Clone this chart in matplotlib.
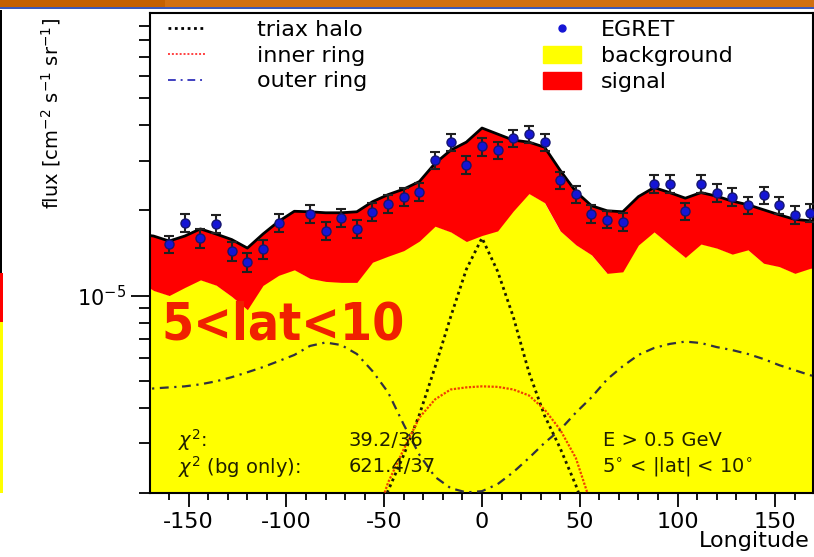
import numpy as np
import matplotlib.pyplot as plt
from matplotlib.patches import Rectangle, Patch
from matplotlib.lines import Line2D
from matplotlib.ticker import MultipleLocator, NullFormatter, LogLocator

plt.rcParams['font.family'] = ['DejaVu Sans']
plt.rcParams['axes.unicode_minus'] = False

# model curves, every 8 deg of longitude, flux in units of 1e-5 cm^-2 s^-1 sr^-1
lon = [-176, -168, -160, -152, -144, -136, -128, -120, -112, -104,
       -96, -88, -80, -72, -64, -56, -48, -40, -32, -24,
       -16, -8, 0, 8, 16, 24, 32, 40, 48, 56,
       64, 72, 80, 88, 96, 104, 112, 120, 128, 136,
       144, 152, 160, 168, 176]
total = [1.65, 1.624, 1.559, 1.624, 1.721, 1.651, 1.578, 1.472, 1.651, 1.830,
         1.987, 1.979, 1.963, 1.963, 1.979, 2.148, 2.276, 2.381, 2.532, 2.937,
         3.268, 3.491, 3.916, 3.728, 3.548, 3.491, 3.350, 2.773, 2.333, 2.079,
         1.995, 1.979, 2.239, 2.411, 2.314, 2.211, 2.314, 2.248, 2.158, 2.096,
         2.012, 1.931, 1.860, 1.838, 1.82]
background = [1.13, 1.042, 1.000, 1.068, 1.136, 1.088, 0.992, 0.891, 1.086, 1.179,
              1.233, 1.150, 1.122, 1.113, 1.113, 1.312, 1.378, 1.442, 1.559, 1.759,
              1.679, 1.553, 1.631, 1.693, 1.991, 2.295, 2.131, 1.693, 1.512, 1.393,
              1.198, 1.213, 1.509, 1.679, 1.512, 1.364, 1.521, 1.472, 1.401, 1.451,
              1.301, 1.266, 1.198, 1.249, 1.25]
outer_ring = [0.458, 0.469, 0.473, 0.477, 0.485, 0.497, 0.514, 0.535, 0.558, 0.586,
              0.616, 0.663, 0.682, 0.668, 0.621, 0.540, 0.454, 0.349, 0.273, 0.228,
              0.208, 0.201, 0.203, 0.215, 0.237, 0.266, 0.301, 0.335, 0.385, 0.436,
              0.505, 0.562, 0.616, 0.652, 0.674, 0.687, 0.679, 0.657, 0.641, 0.621,
              0.596, 0.567, 0.544, 0.522, 0.505]

# halo and inner ring only matter near the centre
lon_c = [-56, -48, -40, -32, -24, -16, -8, 0, 8, 16, 24, 32, 40, 48, 56]
triax_halo = [0.15, 0.204, 0.273, 0.379, 0.558, 0.841, 1.238, 1.598,
              1.218, 0.841, 0.535, 0.376, 0.288, 0.213, 0.15]
inner_ring = [0.15, 0.218, 0.286, 0.370, 0.429, 0.465, 0.473, 0.477,
              0.475, 0.465, 0.443, 0.395, 0.335, 0.266, 0.181]

# EGRET data
egret_lon = [-160, -152, -144, -136, -128, -120, -112, -104,
             -88, -80, -72, -64, -56, -48, -40, -32, -24, -16, -8, 0, 8,
             16, 24, 32, 40, 48, 56, 64, 72,
             88, 96, 104, 112, 120, 128, 136, 144, 152, 160, 168]
egret_flux = [1.521, 1.807, 1.598, 1.793, 1.436, 1.312, 1.460, 1.807,
              1.947, 1.697, 1.884, 1.725, 1.979, 2.113, 2.233, 2.327, 3.017, 3.491, 2.905, 3.370, 3.262,
              3.615, 3.737, 3.491, 2.560, 2.282, 1.947, 1.857, 1.823,
              2.491, 2.491, 1.991, 2.491, 2.314, 2.233, 2.091, 2.270, 2.091, 1.926, 1.963]
egret_err = [0.11, 0.13, 0.12, 0.13, 0.11, 0.10, 0.11, 0.13,
             0.14, 0.12, 0.14, 0.13, 0.14, 0.15, 0.16, 0.17, 0.21, 0.24, 0.21, 0.24, 0.23,
             0.25, 0.26, 0.24, 0.18, 0.16, 0.14, 0.13, 0.13,
             0.18, 0.18, 0.14, 0.18, 0.17, 0.16, 0.15, 0.16, 0.15, 0.14, 0.14]

unit = 1e-5
W, H = 814, 557
fig = plt.figure(figsize=(W / 100, H / 100), dpi=100)


def px_rect(x0, y0, x1, y1, color):
    fig.add_artist(Rectangle((x0 / W, 1 - y1 / H), (x1 - x0) / W, (y1 - y0) / H,
                             transform=fig.transFigure, color=color, lw=0))


# slide header bar and the edge of the neighbouring plot
px_rect(0, 0, W, 7, '#c46000')
px_rect(165, 0, W, 7, '#d27010')
px_rect(0, 7, W, 9, '#3a58b8')
px_rect(0, 10, 2, 273, 'black')
px_rect(0, 273, 3, 322, '#ff0000')
px_rect(0, 322, 3, 493, '#ffff00')

ax = fig.add_axes([150 / W, 1 - 493 / H, 663 / W, 480 / H])
ax.set_yscale('log')
ax.set_xlim(-169.8, 169.3)
ax.set_ylim(2e-6, 1e-4)

lon_a = np.array(lon)
bg = np.array(background) * unit
tot = np.array(total) * unit
ax.fill_between(lon_a, 1e-7, bg, color='#ffff00', lw=0, zorder=1)
ax.fill_between(lon_a, bg, tot, color='#ff0000', lw=0, zorder=1)
ax.plot(lon_a, tot, color='black', lw=2, zorder=2)

ax.plot(lon_c, np.array(triax_halo) * unit, color='#1a1a00', lw=2,
        ls=(0, (1, 1.3)), zorder=3)
ax.plot(lon_c, np.array(inner_ring) * unit, color='#f04000', lw=1.6,
        ls=(0, (1, 0.7)), zorder=3)
ax.plot(lon_a, np.array(outer_ring) * unit, color='#303040', lw=1.6,
        ls=(0, (4, 2.5, 1, 2.5)), zorder=3)

ax.errorbar(egret_lon, np.array(egret_flux) * unit, yerr=np.array(egret_err) * unit,
            fmt='o', color='#1515d5', mec='#151570', ms=6.5, ecolor='#202020',
            elinewidth=1.5, capsize=3.5, capthick=1.5, zorder=5)

# axes and ticks
for s in ax.spines.values():
    s.set_linewidth(1.5)
ax.set_xticks([-150, -100, -50, 0, 50, 100, 150])
ax.xaxis.set_minor_locator(MultipleLocator(10))
ax.tick_params(axis='x', which='major', direction='out', length=10, width=1.3,
               labelsize=16, pad=4)
ax.tick_params(axis='x', which='minor', direction='out', length=5, width=1.3)
ax.set_yticks([1e-5], ['$10^{-5}$'])
ax.yaxis.set_minor_locator(LogLocator(base=10, subs=np.arange(2, 10)))
ax.yaxis.set_minor_formatter(NullFormatter())
ax.tick_params(axis='y', which='major', direction='out', length=14, width=1.3,
               labelsize=15, pad=3)
ax.tick_params(axis='y', which='minor', direction='out', length=8, width=1.3)

ax.set_ylabel('flux [cm$^{-2}$ s$^{-1}$ sr$^{-1}$]', loc='top', fontsize=14)
ax.yaxis.set_label_coords(-0.131, 0.99)
ax.set_xlabel('Longitude', loc='right', fontsize=16)
ax.xaxis.set_label_coords(0.995, -0.080)

# legends
leg1 = ax.legend(handles=[
    Line2D([], [], color='black', lw=2, ls=(0, (1, 1.3))),
    Line2D([], [], color='#ff4040', lw=1.4, ls=(0, (1, 1))),
    Line2D([], [], color='#4040c0', lw=1.4, ls=(0, (4, 2.5, 1, 2.5)))],
    labels=['triax halo', 'inner ring', 'outer ring'],
    loc='upper left', bbox_to_anchor=(0.027, 0.985), frameon=False, fontsize=16,
    borderpad=0, borderaxespad=0, handlelength=1.7, handletextpad=2.3,
    labelspacing=0.25)
ax.add_artist(leg1)
ax.legend(handles=[
    Line2D([], [], color='#1515d5', marker='o', ms=5, ls='none'),
    Patch(color='#ffff00'), Patch(color='#ff0000')],
    labels=['EGRET', 'background', 'signal'],
    loc='upper left', bbox_to_anchor=(0.593, 0.985), frameon=False, fontsize=16,
    borderpad=0, borderaxespad=0, handlelength=1.7, handleheight=0.8,
    handletextpad=0.9, labelspacing=0.25)

# annotations
ax.text(0.018, 0.348, '5<lat<10', transform=ax.transAxes, color='#f02000',
        fontsize=37, fontweight='bold', fontstretch='condensed', va='center', ha='left')
txt = dict(transform=ax.transAxes, fontsize=14, color='#202000', va='center', ha='left')
ax.text(0.042, 0.110, r'$\chi^2$:', **txt)
ax.text(0.042, 0.055, r'$\chi^2$ (bg only):', **txt)
ax.text(0.299, 0.110, '39.2/36', **txt)
ax.text(0.299, 0.055, '621.4/37', **txt)
ax.text(0.683, 0.110, 'E > 0.5 GeV', **txt)
ax.text(0.682, 0.055, '5$^{\\circ}$ < |lat| < 10$^{\\circ}$', **txt)

fig.savefig('out.png', dpi=100)
